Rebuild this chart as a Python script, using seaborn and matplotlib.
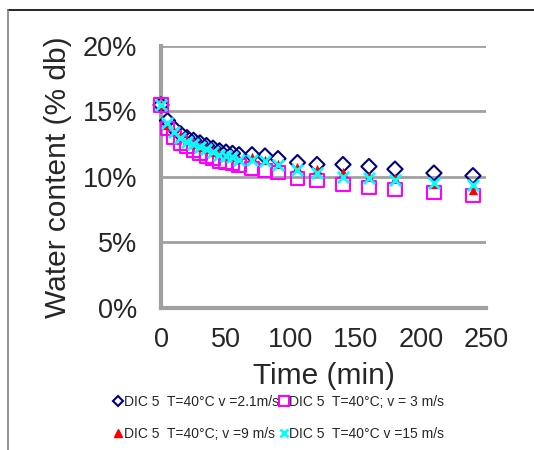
import numpy as np
import pandas as pd
import matplotlib
matplotlib.use("Agg")
import matplotlib.pyplot as plt
from matplotlib.lines import Line2D
from matplotlib.ticker import FuncFormatter
import seaborn as sns

# temps (min)
time_min = [0, 5, 10, 15, 20, 25, 30, 35, 40, 45, 50, 55, 60,
            70, 80, 90, 105, 120, 140, 160, 180, 210, 240]

# teneur en eau (% base seche)
wc_v21 = [15.5, 14.3, 13.7, 13.3, 13.0, 12.8, 12.6, 12.4, 12.2, 12.0, 11.9, 11.8, 11.7,
          11.7, 11.6, 11.4, 11.1, 10.95, 10.95, 10.8, 10.6, 10.3, 10.1]
wc_v3 = [15.5, 13.7, 13.0, 12.6, 12.3, 12.0, 11.8, 11.6, 11.4, 11.2, 11.1, 11.0, 10.9,
         10.65, 10.5, 10.35, 9.9, 9.75, 9.45, 9.2, 9.05, 8.8, 8.6]
wc_v9 = [15.5, 14.0, 13.5, 13.1, 12.8, 12.5, 12.3, 12.1, 11.9, 11.8, 11.6, 11.5, 11.4,
         11.5, 11.3, 11.0, 10.8, 10.6, 10.4, 10.1, 9.95, 9.5, 9.0]
wc_v15 = [15.5, 14.1, 13.4, 13.0, 12.7, 12.5, 12.3, 12.1, 11.9, 11.7, 11.6, 11.5, 11.3,
          11.3, 11.2, 10.9, 10.5, 10.3, 10.0, 9.9, 9.75, 9.55, 9.4]

labels = ["DIC 5  T=40°C v =2.1m/s", "DIC 5  T=40°C; v = 3 m/s",
          "DIC 5  T=40°C; v =9 m/s", "DIC 5  T=40°C v =15 m/s"]

sns.set_style("white")
plt.rcParams['font.family'] = ['Liberation Sans', 'DejaVu Sans']

fig = plt.figure(figsize=(5.34, 4.5), dpi=100)
ax = fig.add_axes([0.3015, 0.3156, 0.6085, 0.5822])

# diamants bleus
sns.scatterplot(x=time_min, y=wc_v21, ax=ax, marker='D', s=60, facecolor='none',
                edgecolor='#000080', linewidth=1.5, zorder=3, clip_on=False)
# carres magenta
sns.scatterplot(x=time_min, y=wc_v3, ax=ax, marker='s', s=90, facecolor='none',
                edgecolor='#FF00FF', linewidth=1.5, zorder=3, clip_on=False)
# triangles rouges
sns.scatterplot(x=time_min, y=wc_v9, ax=ax, marker='^', s=45, color='#FF0000',
                edgecolor='#FF0000', linewidth=0, zorder=4, clip_on=False)
# croix cyan
sns.scatterplot(x=time_min, y=wc_v15, ax=ax, marker='x', s=65, color='#00FFFF',
                linewidth=2, zorder=5, clip_on=False)

ax.set_xlim(0, 250)
ax.set_ylim(0, 20)
ax.set_xticks([0, 50, 100, 150, 200, 250])
ax.set_yticks([0, 5, 10, 15, 20])
ax.yaxis.set_major_formatter(FuncFormatter(lambda v, p: f"{int(v)}%"))
for yv in [5, 10, 15, 20]:
    ax.axhline(yv, color='#a0a0a0', lw=2, zorder=1)
for s in ['top', 'right']:
    ax.spines[s].set_visible(False)
ax.spines['left'].set_color('#a0a0a0')
ax.spines['left'].set_linewidth(3)
ax.spines['bottom'].set_color('#a0a0a0')
ax.spines['bottom'].set_linewidth(3)
ax.tick_params(axis='both', length=0, labelsize=19.5)
ax.tick_params(axis='y', pad=17)
ax.tick_params(axis='x', pad=14)
ax.set_xlabel("Time (min)", fontsize=21.5, labelpad=6)
ax.set_ylabel("Water content (% db)", fontsize=21.5, labelpad=8)

h_dia = Line2D([], [], ls='', marker='D', ms=5, mfc='none', mec='#000080', mew=1.5)
h_sq = Line2D([], [], ls='', marker='s', ms=7, mfc='none', mec='#FF00FF', mew=1.5)
h_tri = Line2D([], [], ls='', marker='^', ms=6, color='#FF0000')
h_x = Line2D([], [], ls='', marker='x', ms=6, color='#00FFFF', mew=2)
# ordre par ligne : la legende se remplit par colonne
fig.legend([h_dia, h_tri, h_sq, h_x], [labels[0], labels[2], labels[1], labels[3]],
           loc='upper left', bbox_to_anchor=(0.214, 0.123),
           ncol=2, frameon=False, fontsize=10, handlelength=0.6, handletextpad=0.1,
           columnspacing=0.05, labelspacing=1.3, borderaxespad=0, borderpad=0)

# cadre exterieur
fig.add_artist(Line2D([8 / 534, 1], [1 - 10 / 450, 1 - 10 / 450], color='black', lw=1.2,
                      transform=fig.transFigure))
fig.add_artist(Line2D([8 / 534, 8 / 534], [0, 1 - 10 / 450], color='#808080', lw=1.2,
                      transform=fig.transFigure))

fig.savefig("out.png", dpi=100)
